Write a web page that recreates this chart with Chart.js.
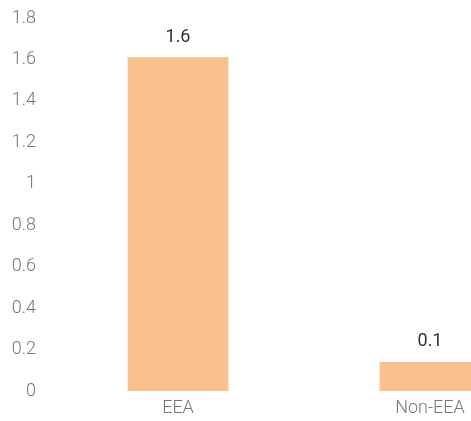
<!DOCTYPE html>
<html>
<head>
<meta charset="utf-8">
<script src="https://cdn.jsdelivr.net/npm/chart.js@4"></script>
<style>
  html, body { margin: 0; padding: 0; background: #fff; overflow: hidden; }
  #wrap { width: 556px; height: 421px; }
</style>
</head>
<body>
<div id="wrap"><canvas id="myChart" width="556" height="421"></canvas></div>
<script>
// данные графика
const categories = ['EEA', 'Non-EEA'];
const values = [1.61, 0.14];
const yTicks = [0, 0.2, 0.4, 0.6, 0.8, 1, 1.2, 1.4, 1.6, 1.8];

// подписи над столбцами
const valueLabels = {
    id: 'valueLabels',
    afterDatasetsDraw(chart) {
        const ctx = chart.ctx;
        const meta = chart.getDatasetMeta(0);
        ctx.save();
        ctx.font = '18px Roboto';
        ctx.fillStyle = '#333';
        ctx.textAlign = 'center';
        ctx.textBaseline = 'middle';
        meta.data.forEach((bar, i) => {
            ctx.fillText(values[i].toFixed(1), bar.x, bar.y - 20);
        });
        ctx.restore();
    }
};

const tickFont = { family: 'Roboto', size: 18, weight: 300 };

const ctx = document.getElementById('myChart').getContext('2d');
new Chart(ctx, {
    type: 'bar',
    data: {
        labels: categories,
        datasets: [{
            data: values,
            backgroundColor: '#F9C08F',
            categoryPercentage: 1,
            barPercentage: 0.4
        }]
    },
    plugins: [valueLabels],
    options: {
        responsive: false,
        animation: false,
        layout: { padding: { top: 18, left: 0, right: 0, bottom: 0 } },
        plugins: { legend: { display: false }, tooltip: { enabled: false } },
        scales: {
            x: {
                grid: { display: false, drawTicks: false },
                border: { display: false },
                ticks: { color: '#777', font: tickFont, padding: 7 },
                afterFit: s => { s.height = 30; }
            },
            y: {
                min: 0,
                max: 1.8,
                grid: { display: false, drawTicks: false },
                border: { display: false },
                afterBuildTicks: s => { s.ticks = yTicks.map(v => ({ value: v })); },
                ticks: {
                    color: '#777',
                    font: tickFont,
                    padding: 16,
                    callback: v => String(v)
                },
                afterFit: s => { s.width = 52; s.paddingTop = 0; s.paddingBottom = 0; }
            }
        }
    }
});
</script>
</body>
</html>
